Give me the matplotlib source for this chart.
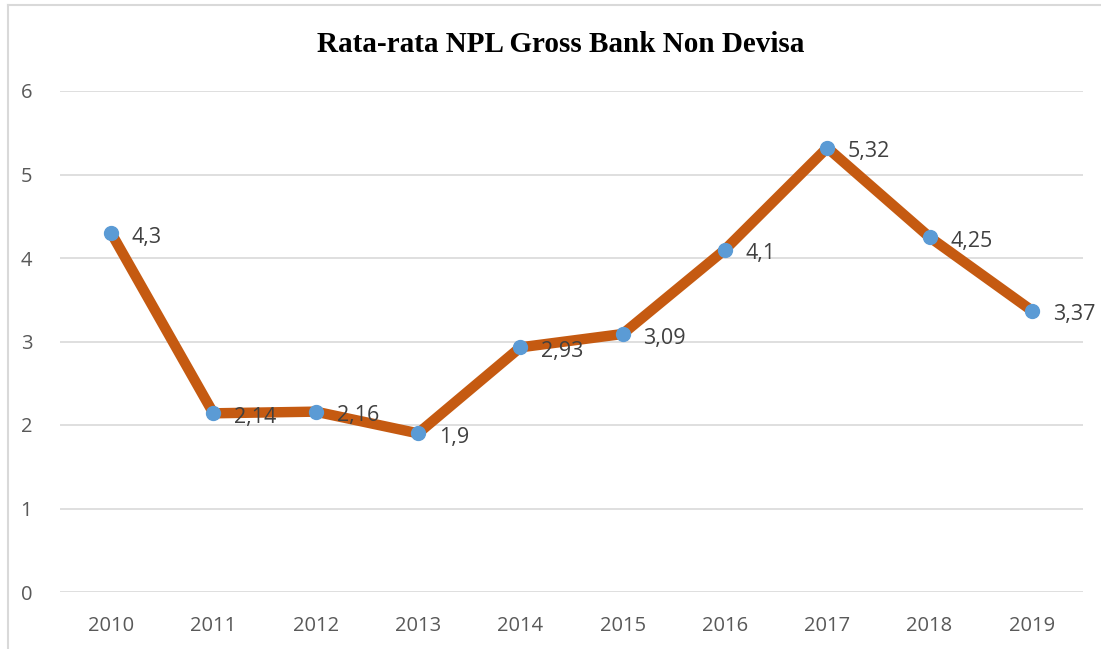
import matplotlib.pyplot as plt
from matplotlib.lines import Line2D

# data
tahun = ['2010', '2011', '2012', '2013', '2014', '2015', '2016', '2017', '2018', '2019']
npl = [4.3, 2.14, 2.16, 1.9, 2.93, 3.09, 4.1, 5.32, 4.25, 3.37]
label_npl = ['4,3', '2,14', '2,16', '1,9', '2,93', '3,09', '4,1', '5,32', '4,25', '3,37']

fig = plt.figure(figsize=(11.01, 6.49), dpi=100)
ax = fig.add_axes([60/1101, 1 - 592/649, 1023/1101, 501/649])

x = range(len(tahun))
ax.plot(x, npl, color='#C55A11', linewidth=7.5, solid_capstyle='round', zorder=2)
ax.plot(x, npl, 'o', color='#5B9BD5', markersize=10, zorder=3)

for i, (v, t) in enumerate(zip(npl, label_npl)):
    ax.annotate(t, (i, v), xytext=(15, -3), textcoords='offset points',
                ha='left', va='center', fontsize=15.5, color='#404040',
                family='Open Sans', zorder=4)

ax.set_xlim(-0.5, len(tahun) - 0.5)
ax.set_ylim(0, 6)
ax.set_yticks(range(7))
ax.set_xticks(list(x))
ax.set_xticklabels(tahun)
ax.grid(axis='y', color='#D9D9D9', linewidth=1.2)
ax.set_axisbelow(True)
for s in ax.spines.values():
    s.set_visible(False)
ax.tick_params(length=0, labelsize=14.5, labelcolor='#595959')
for lab in ax.get_xticklabels() + ax.get_yticklabels():
    lab.set_family('Open Sans')
ax.tick_params(axis='x', pad=17)
ax.tick_params(axis='y', pad=20)

fig.text(561/1101, 1 - 45/649, 'Rata-rata NPL Gross Bank Non Devisa', ha='center', va='center',
         fontsize=21, fontweight='bold', family='Liberation Serif')

# bingkai grafik
fig.add_artist(Line2D([8/1101, 1], [1 - 5/649, 1 - 5/649], color='#D9D9D9', linewidth=1.5,
                      transform=fig.transFigure))
fig.add_artist(Line2D([8/1101, 8/1101], [0, 1 - 5/649], color='#D9D9D9', linewidth=1.5,
                      transform=fig.transFigure))

fig.savefig('out.png', dpi=100)
